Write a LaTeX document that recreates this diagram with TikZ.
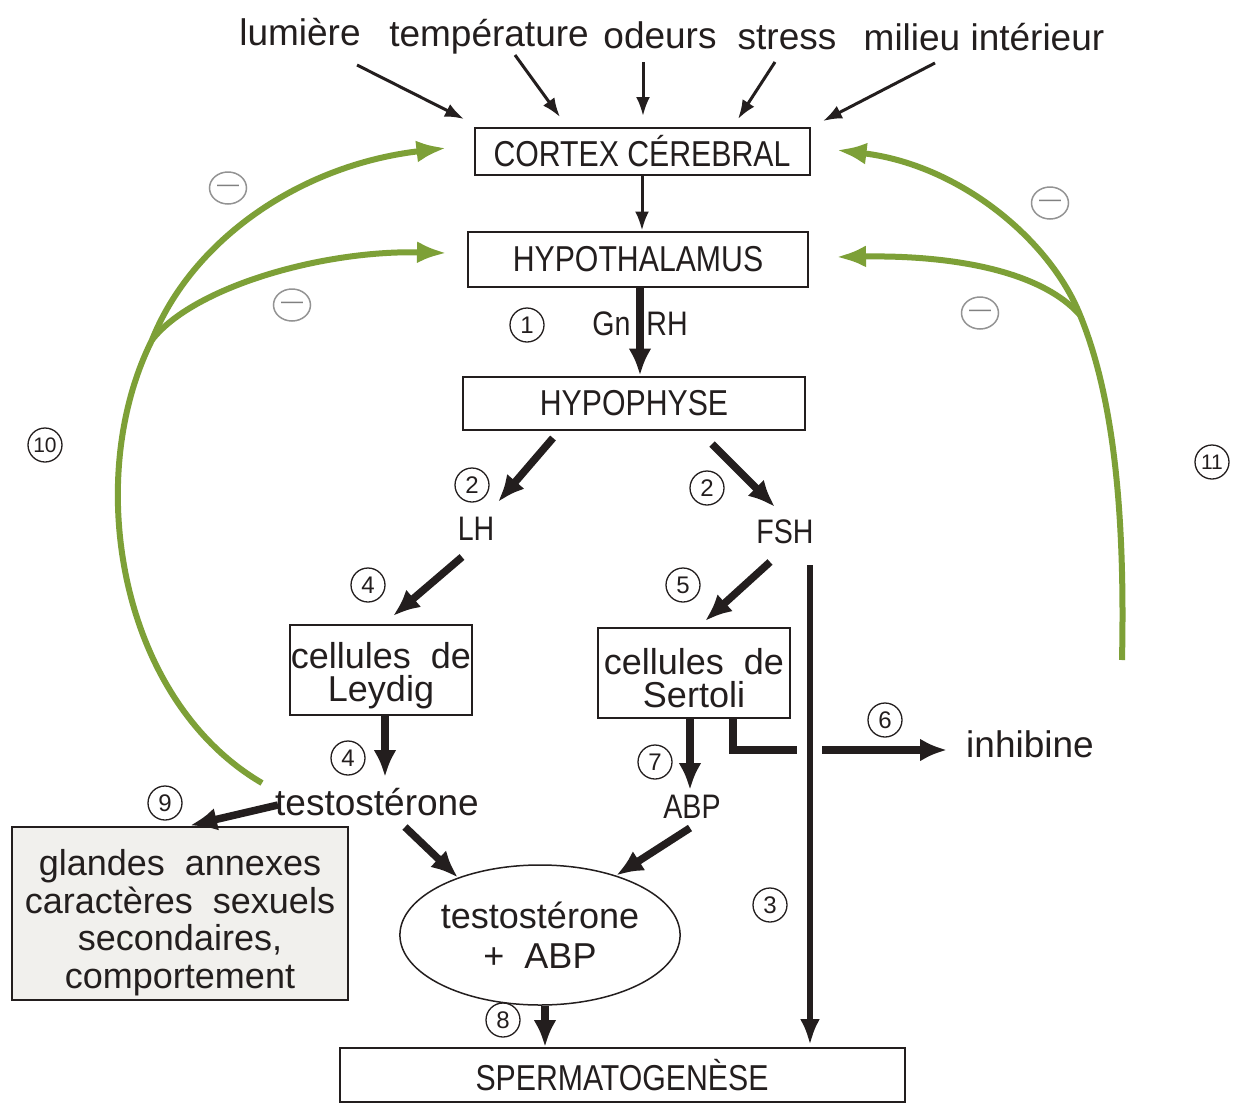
\documentclass[tikz,border=0pt]{standalone}
\usepackage{fontspec}
\setmainfont{Liberation Sans}
\newfontfamily\capsf{Liberation Sans}[FakeStretch=0.84]
\usetikzlibrary{arrows.meta,shapes.geometric}
\definecolor{fbgreen}{RGB}{125,160,55}
\definecolor{boxgray}{RGB}{241,240,237}
\definecolor{ink}{RGB}{35,30,30}
\begin{document}
\begin{tikzpicture}[x=1pt,y=-1pt,
 lab/.style={font=\fontsize{37}{40}\selectfont, inner sep=1pt, text=ink},
 caplab/.style={font=\capsf\fontsize{34}{38}\selectfont, inner sep=1pt, text=ink},
 capbox/.style={draw=ink, line width=2, font=\capsf\fontsize{36}{40}\selectfont, inner sep=0, text=ink},
 lowbox/.style={draw=ink, line width=2, font=\fontsize{36}{33}\selectfont, align=center, inner sep=0, text=ink},
 numc/.style={circle, draw=ink, line width=1.3, minimum size=34, inner sep=0, text=ink, font=\fontsize{24}{24}\selectfont},
 numcc/.style={numc, font=\fontsize{21}{21}\selectfont},
 minus/.style={ellipse, draw=gray!85, line width=1.5, minimum width=37, minimum height=32, inner sep=0, text=gray, font=\fontsize{22}{22}\selectfont},
 tarr/.style={draw=ink, line width=3, -{Latex[length=19,width=14]}},
 karr/.style={draw=ink, line width=7.5, -{Latex[length=27,width=23]}},
 kline/.style={draw=ink, line width=7.5, line join=miter},
 garr/.style={draw=fbgreen, line width=6, -{Latex[length=30,width=22]}},
]
\fill[white] (0,0) rectangle (1240,1106);
\useasboundingbox (0,0) rectangle (1240,1106);

% top labels
\node[lab, anchor=base] (lum) at (300,45) {lumière};
\node[lab, anchor=base] (temp) at (489,46) {température};
\node[lab, anchor=base] (odeurs) at (660,48) {odeurs};
\node[lab, anchor=base] (stress) at (787,49) {stress};
\node[lab, anchor=base] (milieu) at (984,50) {milieu intérieur};

% boxes
\node[capbox, minimum width=335, minimum height=47] (cortex) at (642,151) {CORTEX CÉREBRAL};
\node[capbox, minimum width=340, minimum height=55] (hypo) at (638,259) {HYPOTHALAMUS};
\node[capbox, minimum width=342, minimum height=53] (hypoph) at (634,403) {HYPOPHYSE};
\node[lowbox, minimum width=182, minimum height=90] (leydig) at (381,670) {\rule{0pt}{37pt}cellules\ \ de\\Leydig};
\node[lowbox, minimum width=192, minimum height=90] (sertoli) at (694,673) {\rule{0pt}{37pt}cellules\ \ de\\Sertoli};
\node[lowbox, fill=boxgray, minimum width=336, minimum height=173, font=\fontsize{36}{37.5}\selectfont] (glandes) at (180,913) {\rule{0pt}{45pt}glandes\ \ annexes\\caractères\ \ sexuels\\secondaires,\\comportement};
\node[ellipse, draw=ink, line width=1.5, minimum width=200, minimum height=140, inner sep=0, align=center, text=ink, font=\fontsize{36}{40}\selectfont] (ell) at (540,935) {testostérone\\+\ \ ABP};
\node[capbox, minimum width=565, minimum height=54] (sperm) at (622,1075) {SPERMATOGENÈSE};

% hormone labels
\node[caplab, anchor=base] (gnrh) at (640,335) {Gn\hspace{16pt}RH};
\node[caplab, anchor=base] (lh) at (476,540) {LH};
\node[caplab, anchor=base] (fsh) at (785,543) {FSH};
\node[caplab, anchor=base] (abp) at (692,818) {ABP};
\node[lab, anchor=base] (testo) at (377,815) {testostérone};
\node[lab, anchor=base] (inh) at (1030,757) {inhibine};

% numbered circles
\node[numc] (n1) at (527,325) {1};
\node[numc] (n2a) at (472,485) {2};
\node[numc] (n2b) at (707,488) {2};
\node[numc] (n4a) at (368,585) {4};
\node[numc] (n5) at (683,585) {5};
\node[numc] (n4b) at (348,758) {4};
\node[numc] (n7) at (655,762) {7};
\node[numc] (n6) at (885,720) {6};
\node[numc] (n9) at (165,803) {9};
\node[numc] (n3) at (770,905) {3};
\node[numc] (n8) at (503,1020) {8};
\node[numcc] (n10) at (45,445) {10};
\node[numcc] (n11) at (1212,462) {11};

% minus signs
\node[minus] (m1) at (228,188) {—};
\node[minus] (m2) at (292,305) {—};
\node[minus] (m3) at (1050,203) {—};
\node[minus] (m4) at (980,313) {—};

% top arrows
\draw[tarr] ([shift={(57,20)}]lum.base) -- ([shift={(-9.5,-7.5)}]cortex.north west);
\draw[tarr] ([shift={(26,9)}]temp.base) -- ([shift={(-82,-9.5)}]cortex.north);
\draw[tarr] ([shift={(-17,14)}]odeurs.base) -- ([shift={(1,-10.5)}]cortex.north);
\draw[tarr] ([shift={(-12,13)}]stress.base) -- ([shift={(96,-7.5)}]cortex.north);
\draw[tarr] ([shift={(-49,13)}]milieu.base) -- ([shift={(12.5,-5.5)}]cortex.north east);
\draw[tarr] (cortex.south) -- (cortex.south |- hypo.north);

% thick arrows
\draw[karr] ([xshift=2]hypo.south) -- ([xshift=6]hypoph.north);
\draw[karr] ([shift={(-81,7.5)}]hypoph.south) -- ([shift={(22,-38)}]lh.base);
\draw[karr] ([shift={(78,13.5)}]hypoph.south) -- ([shift={(-10,-36)}]fsh.base);
\draw[karr] ([shift={(-14,17)}]lh.base) -- ([shift={(12,-8)}]leydig.north);
\draw[karr] ([shift={(-15,19)}]fsh.base) -- ([shift={(11,-6)}]sertoli.north);
\draw[draw=ink, line width=6, -{Latex[length=26,width=20]}] ([shift={(25,22)}]fsh.base) -- ([shift={(188,-2)}]sperm.north);
\draw[karr] ([xshift=4]leydig.south) -- ([shift={(8,-38)}]testo.base);
\draw[karr] ([xshift=-4]sertoli.south) -- ([shift={(-2,-28)}]abp.base);
\draw[karr] ([shift={(-99,-10)}]testo.base) -- ([xshift=10]glandes.north);
\draw[karr] ([shift={(28,12)}]testo.base) -- (ell.145);
\draw[karr] ([shift={(-2,10)}]abp.base) -- (ell.38);
\draw[karr] ([xshift=5]ell.south) -- ([xshift=-77]sperm.north);

% inhibine
\coordinate (gapL) at (797,750);
\coordinate (gapR) at (822,750);
\draw[kline] ([xshift=39]sertoli.south) |- (gapL);
\draw[karr, shorten >=18] (gapR) -- (inh.west |- gapR);

% green feedback loops
\coordinate (gL) at (262,783);
\coordinate (bL) at (152,340);
\draw[garr] (gL) .. controls (120,700) and (82,480) .. (bL) .. controls (192,240) and (300,165) .. ([shift={(-27,-3)}]cortex.west);
\draw[garr] (bL) .. controls (192,288) and (320,250) .. ([shift={(-20,-6)}]hypo.west);
\coordinate (gR) at (1122,660);
\coordinate (bR) at (1080,315);
\draw[garr] (gR) .. controls (1125,520) and (1115,400) .. (bR) .. controls (1050,240) and (960,165) .. ([shift={(26,-1)}]cortex.east);
\draw[garr] (bR) .. controls (1040,270) and (950,255) .. ([shift={(27,-2)}]hypo.east);
\end{tikzpicture}
\end{document}
